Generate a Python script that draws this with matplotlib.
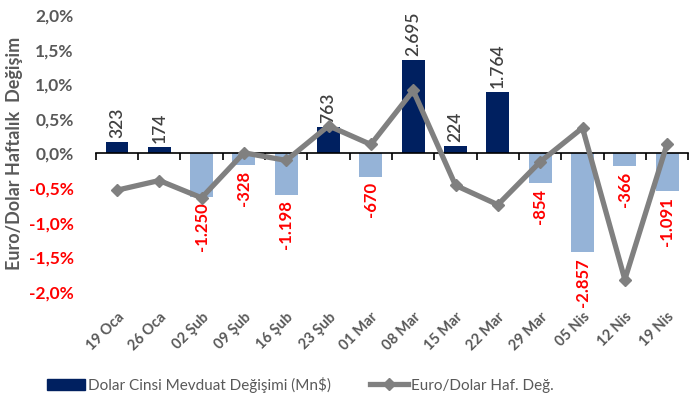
import matplotlib.pyplot as plt
from matplotlib.ticker import FixedLocator, FuncFormatter
from matplotlib.lines import Line2D
from matplotlib.patches import Patch
import numpy as np

weeks = ["19 Oca", "26 Oca", "02 Şub", "09 Şub", "16 Şub", "23 Şub", "01 Mar",
         "08 Mar", "15 Mar", "22 Mar", "29 Mar", "05 Nis", "12 Nis", "19 Nis"]
deposit_change = [323, 174, -1250, -328, -1198, 763, -670,
                  2695, 224, 1764, -854, -2857, -366, -1091]
eurusd_change = [-0.53, -0.39, -0.64, 0.01, -0.10, 0.40, 0.13,
                 0.91, -0.46, -0.74, -0.12, 0.37, -1.82, 0.14]
pct_ticks = [-2.0, -1.5, -1.0, -0.5, 0.0, 0.5, 1.0, 1.5, 2.0]

navy = "#002060"
light = "#95B3D7"
gray_txt = "#595959"
plt.rcParams['font.family'] = ['Lato', 'DejaVu Sans']

fig = plt.figure(figsize=(6.89, 4.05), dpi=100)
ax = fig.add_axes([0.139, 0.279, 0.86, 0.684])
ax2 = ax.twinx()
ax.set_zorder(ax2.get_zorder() + 1)
ax.patch.set_visible(False)

x = np.arange(len(weeks))
cols = [navy if v >= 0 else light for v in deposit_change]
ax2.bar(x, deposit_change, width=0.54, color=cols, zorder=2)
ax2.set_ylim(-4000, 4000)
ax2.set_yticks([])
for s in ["top", "right", "left"]:
    ax2.spines[s].set_visible(False)
ax2.xaxis.set_visible(True)
ax2.spines["bottom"].set_position(("data", 0))
ax2.spines["bottom"].set_color("black")
ax2.spines["bottom"].set_linewidth(1.2)

for xi, v in zip(x, deposit_change):
    txt = f"{v:,}".replace(",", ".")
    if v >= 0:
        ax2.annotate(txt, (xi, v), xytext=(0, 3), textcoords="offset points",
                     rotation=90, ha="center", va="bottom", fontsize=12.5,
                     color="#404040", fontweight="semibold")
    else:
        ax2.annotate(txt, (xi, v), xytext=(0, -4), textcoords="offset points",
                     rotation=90, ha="center", va="top", fontsize=12,
                     color="#FF0000", fontweight="bold")

ax.plot(x, eurusd_change, color="#808080", lw=3.8, marker="D", ms=6,
        zorder=3)
ax.set_ylim(-2.0, 2.0)
ax.set_xlim(-0.5, len(weeks) - 0.5)
ax.yaxis.set_major_locator(FixedLocator(pct_ticks))
ax.yaxis.set_major_formatter(FuncFormatter(lambda v, p: f"{v:.1f}%".replace(".", ",")))
ax.tick_params(axis="y", length=0, pad=16, labelsize=12.5)
for lab, v in zip(ax.get_yticklabels(), pct_ticks):
    lab.set_fontweight("bold")
    lab.set_color("#FF0000" if v < 0 else gray_txt)
for s in ["top", "right", "left", "bottom"]:
    ax.spines[s].set_visible(False)

ax.set_xticks(x)
ax.set_xticks(np.arange(len(weeks) + 1) - 0.5, minor=True)
ax.set_xticklabels(weeks, rotation=45, ha="right", va="top",
                   rotation_mode="anchor", fontsize=10.5, fontweight="bold",
                   color=gray_txt)
ax.tick_params(axis="x", which="major", length=0, pad=13)
ax.tick_params(axis="x", which="minor", length=0)
ax2.tick_params(axis="x", which="major", length=0, labelbottom=False)
ax2.tick_params(axis="x", which="minor", length=5, width=1.2, direction="out",
                color="black")

ax.set_ylabel("Euro/Dolar Haftalık  Değişim", fontsize=13, fontweight="bold",
              color=gray_txt, labelpad=4)

handles = [Patch(color=navy),
           Line2D([], [], color="#808080", lw=3.8, marker="D", ms=6)]
fig.legend(handles, ["Dolar Cinsi Mevduat Değişimi (Mn$)", "Euro/Dolar Haf. Değ."],
           loc="center", bbox_to_anchor=(0.436, 0.05), ncol=2, frameon=False,
           fontsize=11, labelcolor=gray_txt, handlelength=2.5,
           columnspacing=2.5, handletextpad=0.2)

fig.savefig("out.png", dpi=100)
